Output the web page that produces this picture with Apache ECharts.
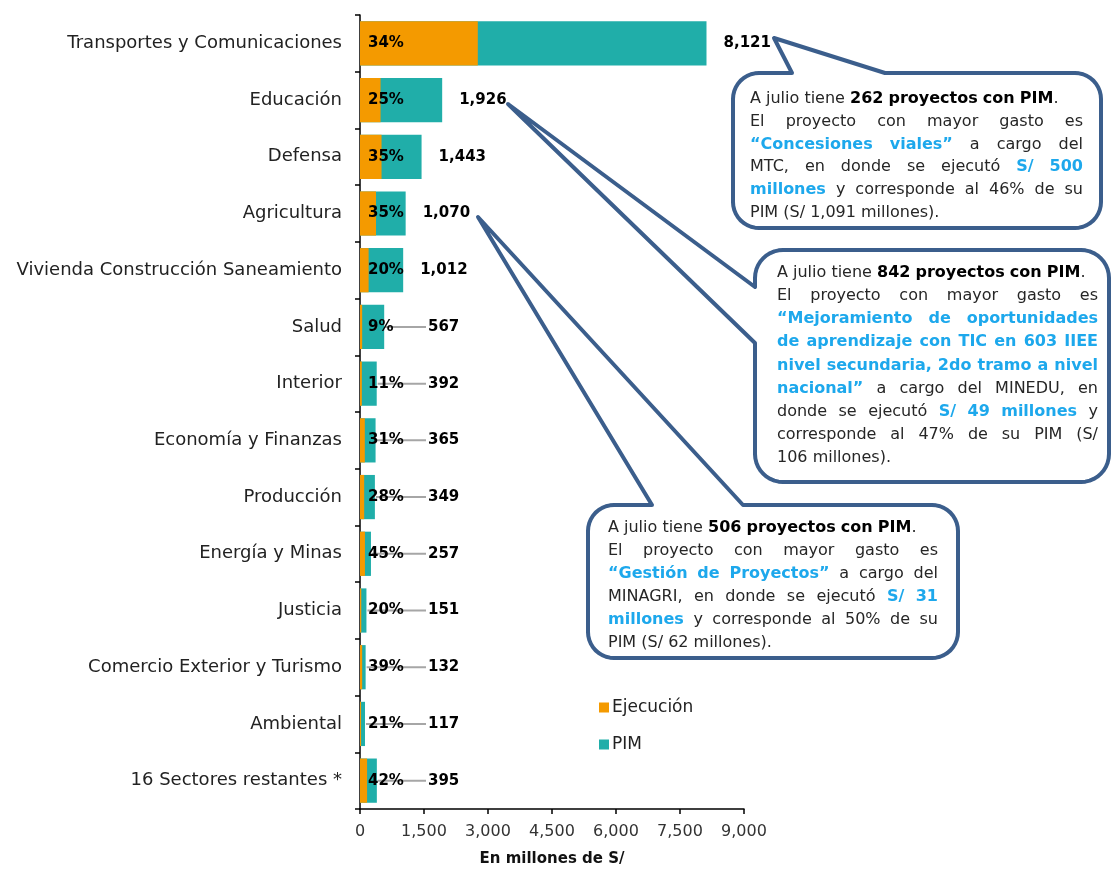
<!DOCTYPE html>
<html>
<head>
<meta charset="utf-8">
<script src="https://cdn.jsdelivr.net/npm/echarts@6/dist/echarts.min.js"></script>
<style>
html,body{margin:0;padding:0;background:#fff;}
#chart{width:1112px;height:872px;}
</style>
</head>
<body>
<div id="chart"></div>
<script>
// ---------------- DATA ----------------
const categories = [
  'Transportes y Comunicaciones', 'Educación', 'Defensa', 'Agricultura',
  'Vivienda Construcción Saneamiento', 'Salud', 'Interior', 'Economía y Finanzas',
  'Producción', 'Energía y Minas', 'Justicia', 'Comercio Exterior y Turismo',
  'Ambiental', '16 Sectores restantes *'
];
const pimValues  = [8121, 1926, 1443, 1070, 1012, 567, 392, 365, 349, 257, 151, 132, 117, 395];
const ejecValues = [2761, 482, 505, 375, 202, 51, 43, 113, 98, 116, 30, 51, 25, 166];
const pctLabels  = ['34%', '25%', '35%', '35%', '20%', '9%', '11%', '31%', '28%', '45%', '20%', '39%', '21%', '42%'];
const xMin = 0, xMax = 9000, xInterval = 1500;
const seriesNames = ['Ejecución', 'PIM'];
const axisTitle = 'En millones de S/';

// Callout texts: [style, text]; n = normal, b = bold, h = highlighted bold
const callout1Lines = [
  [['n', 'A julio tiene '], ['b', '262 proyectos con PIM'], ['n', '.']],
  [['n', 'El proyecto con mayor gasto es']],
  [['h', '“Concesiones viales”'], ['n', ' a cargo del']],
  [['n', 'MTC, en donde se ejecutó '], ['h', 'S/ 500']],
  [['h', 'millones'], ['n', ' y corresponde al 46% de su']],
  [['n', 'PIM (S/ 1,091 millones).']]
];
const callout2Lines = [
  [['n', 'A julio tiene '], ['b', '842 proyectos con PIM'], ['n', '.']],
  [['n', 'El proyecto con mayor gasto es']],
  [['h', '“Mejoramiento de oportunidades']],
  [['h', 'de aprendizaje con TIC en 603 IIEE']],
  [['h', 'nivel secundaria, 2do tramo a nivel']],
  [['h', 'nacional”'], ['n', ' a cargo del MINEDU, en']],
  [['n', 'donde se ejecutó '], ['h', 'S/ 49 millones'], ['n', ' y']],
  [['n', 'corresponde al 47% de su PIM (S/']],
  [['n', '106 millones).']]
];
const callout3Lines = [
  [['n', 'A julio tiene '], ['b', '506 proyectos con PIM'], ['n', '.']],
  [['n', 'El proyecto con mayor gasto es']],
  [['h', '“Gestión de Proyectos”'], ['n', ' a cargo del']],
  [['n', 'MINAGRI, en donde se ejecutó '], ['h', 'S/ 31']],
  [['h', 'millones'], ['n', ' y corresponde al 50% de su']],
  [['n', 'PIM (S/ 62 millones).']]
];

// ---------------- STYLE ----------------
const FONT = '"DejaVu Sans", sans-serif';
const ORANGE = '#F49A00';
const TEAL = '#20AEA9';
const BORDER = '#3B5E8C';
const BLUE = '#1DA8EC';

const chart = echarts.init(document.getElementById('chart'));

const fmt = v => v.toLocaleString('en-US');

chart.setOption({
  animation: false,
  backgroundColor: '#fff',
  grid: { left: 360, right: 368, top: 15, bottom: 62, containLabel: false },
  legend: {
    orient: 'vertical', left: 594, top: 694,
    itemWidth: 10, itemHeight: 10, itemGap: 20,
    icon: 'rect',
    textStyle: { fontFamily: FONT, fontSize: 17, color: '#222', padding: [0, 0, 0, -2] },
    data: seriesNames
  },
  xAxis: {
    type: 'value', min: xMin, max: xMax, interval: xInterval,
    name: axisTitle, nameLocation: 'middle', nameGap: 43,
    nameTextStyle: { fontFamily: FONT, fontSize: 15, fontWeight: 'bold', color: '#111' },
    axisLine: { show: true, lineStyle: { color: '#000', width: 1.5 } },
    axisTick: { show: true, length: 5, lineStyle: { color: '#000', width: 1.5 } },
    axisLabel: { fontFamily: FONT, fontSize: 16, color: '#333', margin: 15, formatter: v => fmt(v) },
    splitLine: { show: false }
  },
  yAxis: {
    type: 'category', data: categories, inverse: true,
    axisLine: { show: true, lineStyle: { color: '#000', width: 1.5 } },
    axisTick: { show: true, length: 5, lineStyle: { color: '#000', width: 1.5 } },
    axisLabel: { fontFamily: FONT, fontSize: 18, color: '#222', margin: 18 }
  },
  series: [
    {
      name: 'PIM', type: 'bar', data: pimValues, barWidth: '78%',
      itemStyle: { color: TEAL }, z: 2
    },
    {
      name: 'Ejecución', type: 'bar', data: ejecValues, barWidth: '78%', barGap: '-100%',
      itemStyle: { color: ORANGE }, z: 3,
      label: {
        show: true, position: 'insideLeft', distance: 8,
        formatter: p => pctLabels[p.dataIndex],
        fontFamily: FONT, fontSize: 15, fontWeight: 'bold', color: '#000'
      }
    },
    {
      name: 'valueLabels', type: 'custom', z: 1,
      data: pimValues.map((v, i) => [v, i]),
      encode: { x: 0, y: 1 },
      renderItem: (params, api) => {
        const end = api.coord([api.value(0), api.value(1)]);
        const origin = api.coord([0, api.value(1)]);
        const minX = origin[0] + 68;
        const natural = end[0] + 17;
        const moved = natural + 12 < minX;
        const lx = moved ? minX : natural;
        const children = [];
        if (moved) {
          children.push({
            type: 'line',
            shape: { x1: end[0] + 1, y1: end[1], x2: lx - 2, y2: end[1] },
            style: { stroke: '#A6A6A6', lineWidth: 2 }
          });
        }
        children.push({
          type: 'text',
          style: {
            text: fmt(api.value(0)), x: lx, y: end[1],
            align: 'left', verticalAlign: 'middle',
            fontSize: 15, fontWeight: 'bold', fontFamily: FONT, fill: '#000'
          },
          z2: 10
        });
        return { type: 'group', children };
      }
    }
  ]
});

// ---------------- CALLOUTS ----------------
function arcPts(cx, cy, r, a0, a1) {
  const pts = [];
  const n = 10;
  for (let i = 0; i <= n; i++) {
    const a = a0 + (a1 - a0) * i / n;
    pts.push([cx + r * Math.cos(a), cy + r * Math.sin(a)]);
  }
  return pts;
}
function calloutPoints(b) {
  const { x, y, w, h, r, side, t1, t2, ax, ay } = b;
  const R = x + w, B = y + h, P = Math.PI;
  let pts = [];
  if (side === 'top') pts.push([t1, y], [ax, ay], [t2, y]);
  pts = pts.concat(arcPts(R - r, y + r, r, -P / 2, 0));
  pts = pts.concat(arcPts(R - r, B - r, r, 0, P / 2));
  pts = pts.concat(arcPts(x + r, B - r, r, P / 2, P));
  if (side === 'left') pts.push([x, t2], [ax, ay], [x, t1]);
  pts = pts.concat(arcPts(x + r, y + r, r, P, 1.5 * P));
  return pts;
}

const measureCtx = document.createElement('canvas').getContext('2d');
const TEXT_SIZE = 16;
function fontOf(style, size) {
  return (style === 'n' ? 'normal ' : 'bold ') + size + 'px ' + FONT;
}
function measure(text, style, size) {
  measureCtx.font = fontOf(style, size);
  return measureCtx.measureText(text).width;
}
function toWords(line) {
  const words = []; let cur = null;
  for (const [style, text] of line) {
    text.split(' ').forEach((p, i) => {
      if (i > 0) cur = null;
      if (p === '') return;
      if (!cur) { cur = []; words.push(cur); }
      cur.push([style, p]);
    });
  }
  return words;
}
function wordWidth(word, size) {
  return word.reduce((s, [st, t]) => s + measure(t, st, size), 0);
}
function layoutCallout(lines, left, right, y0, lh, justifyMask) {
  const avail = right - left;
  const size = TEXT_SIZE;
  const sp = measure(' ', 'n', size);
  const els = [];
  lines.map(toWords).forEach((ws, li) => {
    const y = y0 + li * lh;
    const total = ws.reduce((a, w) => a + wordWidth(w, size), 0);
    const minGap = sp * 0.8;
    const natural = total + (ws.length - 1) * minGap;
    let scale = 1, gap;
    if (natural > avail) {
      scale = avail / natural;
      gap = minGap;
    } else if (justifyMask[li] && ws.length > 1) {
      gap = (avail - total) / (ws.length - 1);
    } else {
      gap = Math.min(sp, ws.length > 1 ? (avail - total) / (ws.length - 1) : sp);
    }
    let cx = 0;
    ws.forEach(word => {
      word.forEach(([st, t]) => {
        els.push({
          type: 'text', z: 100,
          x: left + cx * scale, y: y, scaleX: scale,
          style: {
            text: t, x: 0, y: 0, align: 'left', verticalAlign: 'middle',
            font: fontOf(st, size),
            fill: st === 'h' ? BLUE : (st === 'b' ? '#000' : '#262626')
          }
        });
        cx += measure(t, st, size);
      });
      cx += gap;
    });
  });
  return els;
}

const boxes = [
  { x: 733, y: 73, w: 368, h: 155, r: 26, side: 'top', t1: 792, t2: 885, ax: 774, ay: 38 },
  { x: 755, y: 250, w: 354, h: 232, r: 28, side: 'left', t1: 287, t2: 343, ax: 508, ay: 104 },
  { x: 588, y: 505, w: 370, h: 153, r: 26, side: 'top', t1: 652, t2: 743, ax: 478, ay: 217 }
];

const graphics = [];
boxes.forEach(b => {
  graphics.push({
    type: 'polygon', z: 90,
    shape: { points: calloutPoints(b) },
    style: { fill: '#fff', stroke: BORDER, lineWidth: 4, lineJoin: 'round' }
  });
});
graphics.push(...layoutCallout(callout1Lines, 750, 1083, 99, 22.7, [false, true, true, true, true, false]));
graphics.push(...layoutCallout(callout2Lines, 777, 1098, 273, 23.1, [false, true, true, true, true, true, true, true, false]));
graphics.push(...layoutCallout(callout3Lines, 608, 938, 528, 23, [false, true, true, true, true, false]));

chart.setOption({ graphic: { elements: graphics } });
</script>
</body>
</html>
